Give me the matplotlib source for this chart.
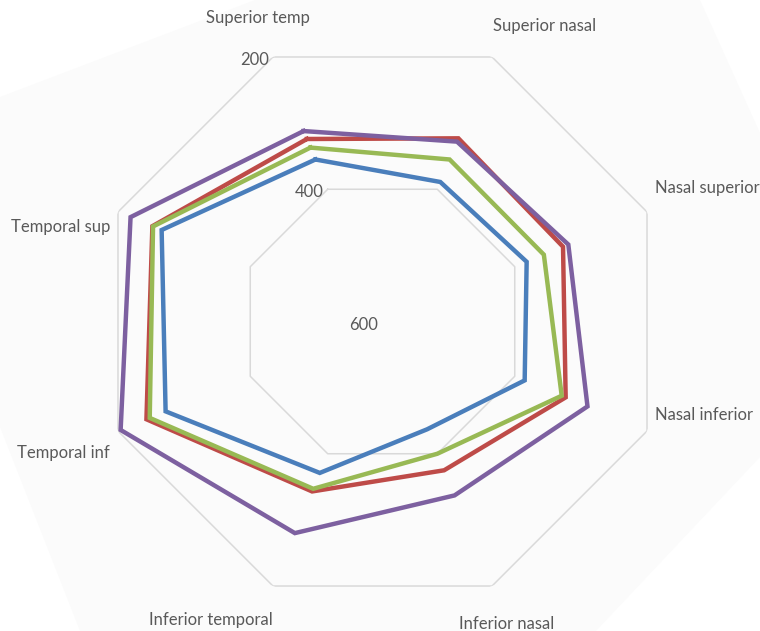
import numpy as np
import matplotlib
matplotlib.use("Agg")
import matplotlib.pyplot as plt
from matplotlib.patches import Polygon

categories = ["Superior temp", "Superior nasal", "Nasal superior", "Nasal inferior",
              "Inferior nasal", "Inferior temporal", "Temporal inf", "Temporal sup"]
blue_vals = [355, 389, 382, 385, 437, 371, 272, 266]
red_vals = [324, 323, 327, 323, 375, 343, 243, 252]
green_vals = [337, 355, 356, 329, 400, 347, 248, 253]
purple_vals = [312, 328, 319, 290, 337, 280, 204, 219]
ring_values = [200, 400]
tick_values = [200, 400, 600]

colors = ["#4A7EBB", "#BE4B48", "#98B954", "#7D60A0"]
text_col = "#595959"
grid_col = "#d9d9d9"

W, H = 760, 631
fig = plt.figure(figsize=(W / 100, H / 100), dpi=100)
fig.patch.set_facecolor("white")

# faint grey area left over from the rotated screenshot
bg = [(0, 97), (255, 0), (700, 0), (760, 133), (760, 457), (596, 631), (80, 631), (0, 427)]
fig.patches.append(Polygon([(x / W, 1 - y / H) for x, y in bg], closed=True,
                           transform=fig.transFigure, facecolor="#fbfbfb",
                           edgecolor="none", zorder=-10))

cx, cy, R = 382.5, 321.5, 286.3
ax = fig.add_axes([(cx - R) / W, (H - cy - R) / H, 2 * R / W, 2 * R / H],
                  projection="polar")
ax.patch.set_alpha(0)
ax.set_theta_offset(np.deg2rad(112.5))
ax.set_theta_direction(-1)
ax.set_ylim(600, 200)
ax.grid(False)
ax.spines["polar"].set_visible(False)
ax.set_xticks([])
ax.set_yticks([])

theta = np.arange(len(categories)) * 2 * np.pi / len(categories)
theta_c = np.append(theta, theta[0])

for v in ring_values:
    ax.plot(theta_c, [v] * len(theta_c), color=grid_col, lw=1.1, zorder=1)

for vals, c in zip([blue_vals, red_vals, green_vals, purple_vals], colors):
    ax.plot(theta_c, vals + vals[:1], color=c, lw=3.2, zorder=3,
            solid_joinstyle="miter")

font = "Lato"
fs = 12

# category labels sit just outside the outer ring
label_pos = [("center", -15, 38.5), ("center", 53, 30.5), ("left", 8, 23.5),
             ("left", 8, 16.5), ("center", 14.5, -37.5), ("center", -62.5, -34),
             ("right", -8, -21.5), ("right", -8, -15.5)]
for t, name, (ha, dx, dy) in zip(theta, categories, label_pos):
    ax.annotate(name, xy=(t, ring_values[0]), xytext=(dx, dy),
                textcoords="offset pixels", ha=ha, va="center",
                fontsize=fs, color=text_col, family=font, annotation_clip=False)

for v in tick_values:
    ax.annotate(str(v), xy=(0, v), xytext=(-4, -3), textcoords="offset pixels",
                ha="right", va="center", fontsize=fs, color=text_col,
                family=font, annotation_clip=False)

fig.savefig("out.png", dpi=100)
